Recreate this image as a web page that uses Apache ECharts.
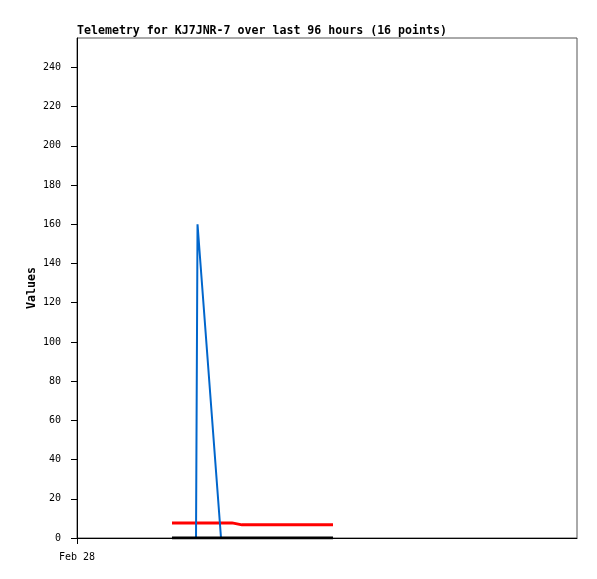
<!DOCTYPE html>
<html><head><meta charset="utf-8">
<script src="https://cdn.jsdelivr.net/npm/echarts@6/dist/echarts.min.js"></script>
<style>html,body{margin:0;padding:0;background:#fff}#c{width:597px;height:579px}</style>
</head><body><div id="c"></div>
<script>
// Hours since Feb 28 00:00 (x axis spans 96 hours)
var blueTimes = [18.24, 22.85, 23.14, 27.65, 49.15];
var blueValues = [0, 0, 160, 0, 0];
var redTimes = [18.24, 29.76, 31.68, 49.15];
var redValues = [7.7, 7.7, 6.7, 6.7];
var blackTimes = [18.24, 49.15];
var blackValues = [0, 0];
var yTicks = [0, 20, 40, 60, 80, 100, 120, 140, 160, 180, 200, 220, 240];
var xTicks = [0];
var xTickLabels = ['Feb 28'];
var titleText = 'Telemetry for KJ7JNR-7 over last 96 hours (16 points)';
var yAxisTitle = 'Values';

function pairs(t, v) { return t.map(function (x, i) { return [x, v[i]]; }); }
var mono = '"DejaVu Sans Mono", "Liberation Mono", monospace';
var chart = echarts.init(document.getElementById('c'));
chart.setOption({
  animation: false,
  backgroundColor: '#fff',
  title: {
    text: titleText, left: 73, top: 25, padding: [0, 4],
    textStyle: { fontFamily: mono, fontSize: 11.6, fontWeight: 'bold', color: '#000' }
  },
  graphic: [{
    type: 'text', x: 32, y: 288, rotation: Math.PI / 2,
    style: { text: yAxisTitle, font: 'bold 11.6px ' + mono, fill: '#000', align: 'center', verticalAlign: 'middle' }
  }],
  grid: { left: 77, top: 38, width: 500, height: 500, show: true, borderColor: '#555', borderWidth: 1, backgroundColor: 'transparent' },
  xAxis: {
    type: 'value', min: 0, max: 96,
    axisLine: { show: true, onZero: false, lineStyle: { color: '#000', width: 1 } },
    axisTick: { show: true, length: 6, customValues: xTicks, lineStyle: { color: '#000' } },
    axisLabel: { show: true, customValues: xTicks, margin: 14, fontFamily: mono, fontSize: 10, color: '#000',
      formatter: function (v) { var i = xTicks.indexOf(v); return i >= 0 ? xTickLabels[i] : ''; } },
    splitLine: { show: false }
  },
  yAxis: {
    type: 'value', min: 0, max: 255,
    axisLine: { show: true, lineStyle: { color: '#000', width: 1 } },
    axisTick: { show: true, length: 6, customValues: yTicks, lineStyle: { color: '#000' } },
    axisLabel: { show: true, customValues: yTicks, margin: 16, padding: [4, 0, 0, 0], fontFamily: mono, fontSize: 10, color: '#000' },
    splitLine: { show: false }
  },
  series: [
    { type: 'line', data: pairs(redTimes, redValues), showSymbol: false, lineStyle: { color: '#ff0000', width: 3 }, z: 2 },
    { type: 'line', data: pairs(blueTimes, blueValues), showSymbol: false, lineStyle: { color: '#0066cc', width: 2 }, z: 3 },
    { type: 'line', data: pairs(blackTimes, blackValues), showSymbol: false, lineStyle: { color: '#000', width: 3 }, z: 4 }
  ]
});
</script></body></html>
